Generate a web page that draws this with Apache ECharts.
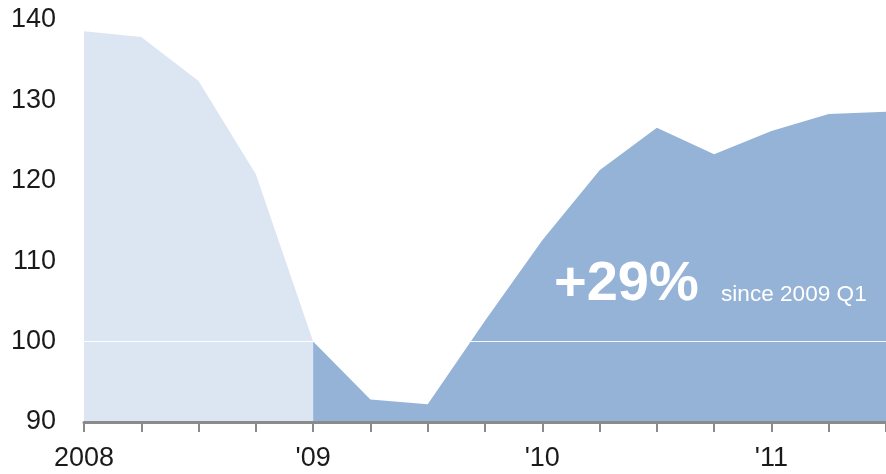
<!DOCTYPE html>
<html>
<head>
<meta charset="utf-8">
<title>Quarterly index</title>
<script src="https://cdn.jsdelivr.net/npm/echarts@6/dist/echarts.min.js"></script>
<style>
  html, body { margin: 0; padding: 0; background: #fff; overflow: hidden; }
  #chart { width: 886px; height: 474px; }
</style>
</head>
<body>
<div id="chart"></div>
<script>
// Quarters from 2008 Q1 to 2011 Q3
var quarters = ['2008 Q1', '2008 Q2', '2008 Q3', '2008 Q4',
                '2009 Q1', '2009 Q2', '2009 Q3', '2009 Q4',
                '2010 Q1', '2010 Q2', '2010 Q3', '2010 Q4',
                '2011 Q1', '2011 Q2', '2011 Q3'];
// Index values (2009 Q1 = 100)
var indexValues = [138.6, 137.9, 132.4, 120.8,
                   100.0, 92.8, 92.2, 102.6,
                   112.6, 121.3, 126.6, 123.3,
                   126.2, 128.3, 128.6];
// Year labels shown under each Q1 tick
var yearLabels = {'2008 Q1': '2008', '2009 Q1': "'09", '2010 Q1': "'10", '2011 Q1': "'11"};
var baseQuarter = '2009 Q1';
var yTicks = [90, 100, 110, 120, 130, 140];

var baseIdx = quarters.indexOf(baseQuarter);
var before = indexValues.map(function (v, i) { return i <= baseIdx ? v : null; });
var after = indexValues.map(function (v, i) { return i >= baseIdx ? v : null; });
var change = Math.round((indexValues[indexValues.length - 1] / indexValues[baseIdx] - 1) * 100);

var font = 'Liberation Sans, Arial, sans-serif';
var chart = echarts.init(document.getElementById('chart'), null, { renderer: 'canvas' });

chart.setOption({
  animation: false,
  grid: { left: 84, right: 0, top: 20, bottom: 52, containLabel: false, outerBoundsMode: 'none' },
  xAxis: {
    type: 'category',
    data: quarters,
    boundaryGap: false,
    axisLine: { show: true, lineStyle: { color: '#8a8a8a', width: 3 } },
    axisTick: { show: true, interval: 0, length: 10, lineStyle: { color: '#8a8a8a', width: 2 } },
    axisLabel: {
      interval: 0,
      margin: 23,
      fontSize: 27,
      fontFamily: font,
      color: '#1a1a1a',
      formatter: function (v) { return yearLabels[v] || ''; }
    },
    splitLine: { show: false },
    z: 5
  },
  yAxis: {
    type: 'value',
    min: yTicks[0],
    max: yTicks[yTicks.length - 1],
    interval: 10,
    axisLine: { show: false },
    axisTick: { show: false },
    splitLine: { show: false },
    axisLabel: { margin: 28, fontSize: 27, fontFamily: font, color: '#1a1a1a' }
  },
  series: [
    {
      name: 'before',
      type: 'line',
      data: before,
      symbol: 'none',
      lineStyle: { width: 0 },
      areaStyle: { color: '#dce6f2', opacity: 1 },
      connectNulls: false,
      z: 1
    },
    {
      name: 'after',
      type: 'line',
      data: after,
      symbol: 'none',
      lineStyle: { width: 0 },
      areaStyle: { color: '#95b3d7', opacity: 1 },
      connectNulls: false,
      z: 2,
      markLine: {
        silent: true,
        symbol: 'none',
        label: { show: false },
        lineStyle: { color: '#ffffff', width: 1, type: 'solid', opacity: 0.9 },
        data: [{ yAxis: 100 }]
      }
    }
  ],
  graphic: [
    {
      type: 'text',
      left: 554,
      top: 257,
      z: 10,
      style: {
        text: '+' + change + '%',
        fill: '#ffffff',
        font: 'bold 56px ' + font
      }
    },
    {
      type: 'text',
      left: 721,
      top: 283,
      z: 10,
      style: {
        text: 'since ' + baseQuarter,
        fill: '#ffffff',
        font: '22.6px ' + font
      }
    }
  ]
});
</script>
</body>
</html>
